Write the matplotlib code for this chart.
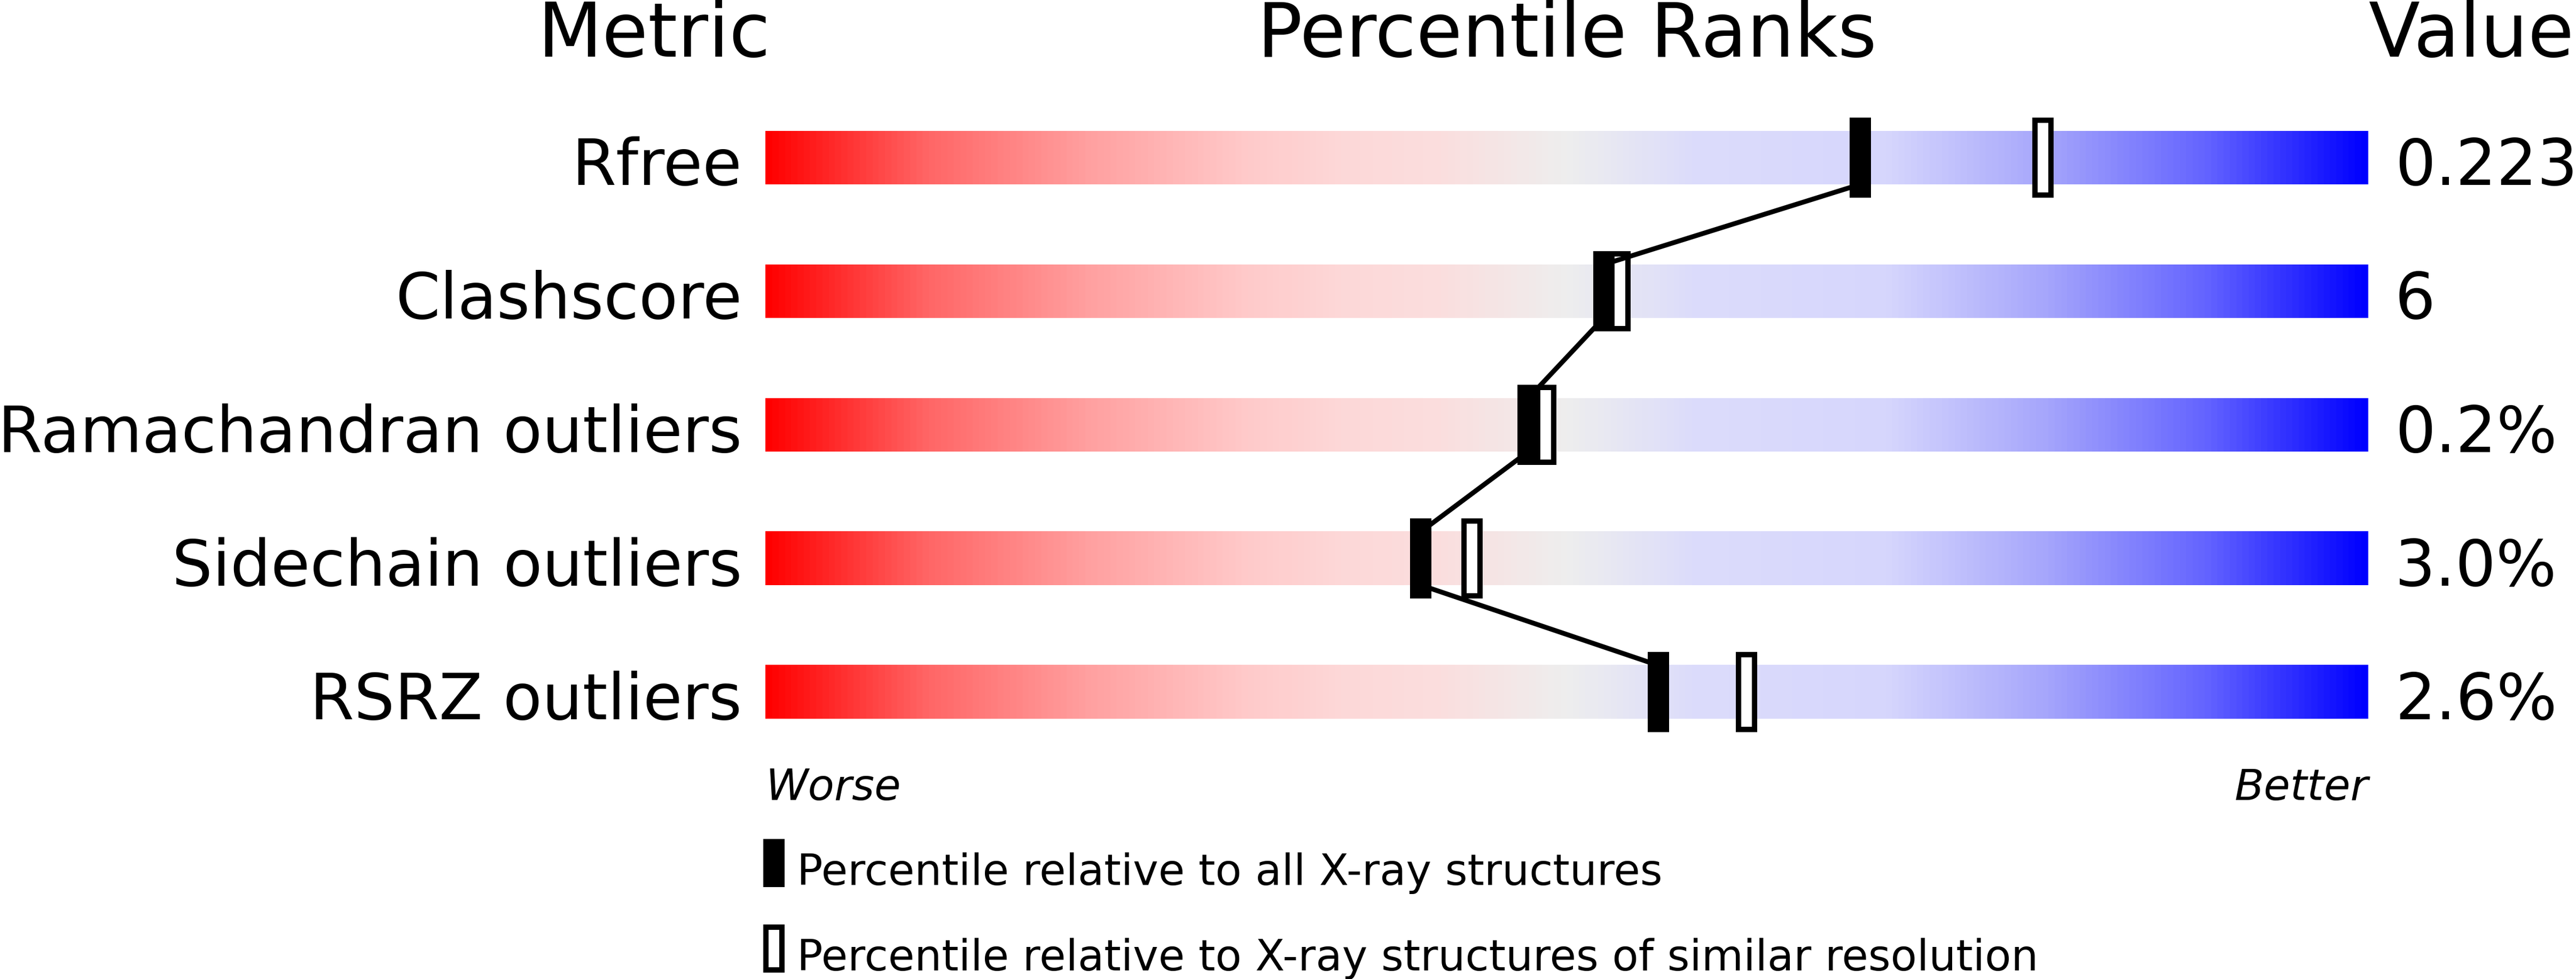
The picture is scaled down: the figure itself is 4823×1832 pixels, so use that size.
import matplotlib
matplotlib.use("Agg")
import matplotlib.pyplot as plt
import numpy as np
from matplotlib.colors import LinearSegmentedColormap
from matplotlib.patches import Rectangle

# ---- data ----
metrics = ["Rfree", "Clashscore", "Ramachandran outliers", "Sidechain outliers", "RSRZ outliers"]
values = ["0.223", "6", "0.2%", "3.0%", "2.6%"]
pct_all = [68.3, 52.3, 47.6, 40.9, 55.7]
pct_similar = [79.7, 53.3, 48.7, 44.1, 61.2]
headers = ["Metric", "Percentile Ranks", "Value"]
worse_better = ["Worse", "Better"]
legend_labels = ["Percentile relative to all X-ray structures",
                 "Percentile relative to X-ray structures of similar resolution"]

W, H, DPI = 4823, 1833, 100
fig = plt.figure(figsize=(W / DPI, H / DPI), dpi=DPI)
bar_left_px, bar_right_px = 1433, 4434
row0_px, row_step_px = 296, 250
ax = fig.add_axes([bar_left_px / W, 0, (bar_right_px - bar_left_px) / W, 1])
ax.set_xlim(0, 100)
ax.set_ylim((H - row0_px) / row_step_px, -row0_px / row_step_px)
ax.axis("off")

stops = [(0.0, "#ff0000"), (0.1, "#ff6666"), (0.2, "#ffa0a0"), (0.3, "#ffcaca"),
         (0.36, "#fdd8d8"), (0.42, "#fbdede"), (0.5, "#eeeeee"), (0.58, "#dcdcfb"),
         (0.7, "#d6d6fd"), (0.8, "#a6a6fb"), (0.9, "#6464ff"), (1.0, "#0000ff")]
cmap = LinearSegmentedColormap.from_list("slider", stops)
grad = np.linspace(0, 1, 1000).reshape(1, -1)

bar_h = 0.4
mk_h = 0.6
mk_w = 40 / 30.01
edge_lw = 10 * 72 / DPI
n = len(metrics)
for i in range(n):
    ax.imshow(grad, cmap=cmap, aspect="auto", extent=[0, 100, i + bar_h / 2, i - bar_h / 2],
              interpolation="bilinear", zorder=1)
    ax.text(-1.45, i + bar_h / 2, metrics[i], ha="right", va="baseline", fontsize=86)
    ax.text(101.67, i + bar_h / 2, values[i], ha="left", va="baseline", fontsize=86)
    # open marker (similar resolution)
    ow = mk_w - 10 / 30.01
    oh = mk_h - 10 / row_step_px
    ax.add_patch(Rectangle((pct_similar[i] - ow / 2, i - oh / 2), ow, oh, facecolor="white",
                           edgecolor="black", linewidth=edge_lw, zorder=3))
    # filled marker (all structures)
    ax.add_patch(Rectangle((pct_all[i] - mk_w / 2, i - mk_h / 2), mk_w, mk_h, facecolor="black",
                           edgecolor="none", linewidth=0, zorder=5))

# connecting line
for i in range(n - 1):
    ax.plot([pct_all[i], pct_all[i + 1]], [i + bar_h / 2, i + 1 - bar_h / 2], color="black",
            linewidth=9 * 72 / DPI, zorder=4, solid_capstyle="butt")

hy = (106 - row0_px) / row_step_px
ax.text(0.3, hy, headers[0], ha="right", va="baseline", fontsize=101)
ax.text(50, hy, headers[1], ha="center", va="baseline", fontsize=101)
ax.text(100.03, hy, headers[2], ha="left", va="baseline", fontsize=101)

wy = (1497 - row0_px) / row_step_px
ax.text(0, wy, worse_better[0], ha="left", va="baseline", fontsize=58, style="italic")
ax.text(100, wy, worse_better[1], ha="right", va="baseline", fontsize=58, style="italic")

# legend
lg_h = 90 / row_step_px
lg_w = 40 / 30.01
ly1 = (1571 - row0_px) / row_step_px
ly2 = (1731 - row0_px) / row_step_px
ax.add_patch(Rectangle((-0.13, ly1), lg_w, lg_h, facecolor="black", edgecolor="none", clip_on=False))
ax.add_patch(Rectangle((-0.13 + 5 / 30.01, ly2 + 5 / row_step_px), lg_w - 10 / 30.01,
                       lg_h - 10 / row_step_px, facecolor="white", edgecolor="black",
                       linewidth=edge_lw, clip_on=False))
ax.text(1.97, (1656 - row0_px) / row_step_px, legend_labels[0], ha="left", va="baseline", fontsize=58)
ax.text(1.97, (1816 - row0_px) / row_step_px, legend_labels[1], ha="left", va="baseline", fontsize=58)

fig.savefig("out.png", dpi=DPI, facecolor="white")
